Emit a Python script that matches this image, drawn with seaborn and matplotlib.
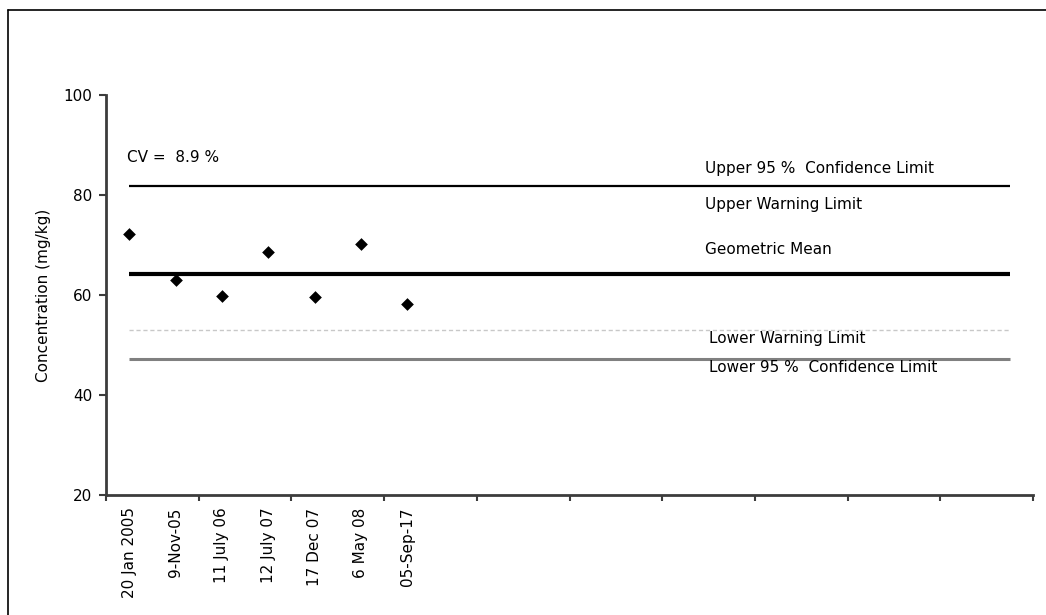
import numpy as np
import pandas as pd
import matplotlib
matplotlib.use("Agg")
import matplotlib.pyplot as plt
from matplotlib.lines import Line2D
import seaborn as sns

# ---- data ----
dates = ["20 Jan 2005", "9-Nov-05", "11 July 06", "12 July 07", "17 Dec 07", "6 May 08", "05-Sep-17"]
concentration = [72.3, 63.0, 59.9, 68.7, 59.6, 70.2, 58.2]
n_slots = 20  # category slots on the x axis (only the first 7 used)

upper_95 = 81.9
geo_mean = 64.3
lower_warning = 53.0
lower_95 = 47.2
cv_text = "CV =  8.9 %"

y_ticks = [20, 40, 60, 80, 100]

# ---- plot ----
sns.set_theme(style="white")
plt.rcParams['font.family'] = ['DejaVu Sans']
plt.rcParams['text.color'] = 'black'
plt.rcParams['axes.labelcolor'] = 'black'
plt.rcParams['xtick.labelcolor'] = 'black'
plt.rcParams['ytick.labelcolor'] = 'black'
FS = 11

fig = plt.figure(figsize=(10.46, 6.15), dpi=100)
ax = fig.add_axes([106/1046, 1-495/615, 927/1046, 400/615])

df = pd.DataFrame({"pos": np.arange(len(dates)), "value": concentration, "date": dates})
sns.scatterplot(data=df, x="pos", y="value", marker="D", color="black", s=42,
                edgecolor="black", linewidth=0, ax=ax, zorder=5)

x0, x1 = 0, n_slots - 1
ax.hlines(upper_95, x0, x1, color="black", lw=1.6)
ax.hlines(geo_mean, x0, x1, color="black", lw=3.0)
ax.hlines(lower_warning, x0, x1, color="#c8c8c8", lw=1.0, linestyles=(0, (3, 2)))
ax.hlines(lower_95, x0, x1, color="#808080", lw=2.2)

ax.set_xlim(-0.5, n_slots - 0.5)
ax.set_ylim(y_ticks[0], y_ticks[-1])
ax.set_yticks(y_ticks)
ax.set_yticklabels([str(t) for t in y_ticks], fontsize=FS)

ax.set_xticks(np.arange(-0.5, n_slots, 2))
ax.set_xticklabels([])
ax.set_xticks(np.arange(len(dates)), minor=True)
ax.set_xticklabels(dates, minor=True, rotation=90, fontsize=FS, va="top", ha="center")
ax.tick_params(axis="x", which="minor", length=0, pad=9)
ax.tick_params(axis="x", which="major", length=4, width=1.5, color="#3c3c3c", direction="out", bottom=True)
ax.tick_params(axis="y", length=5, width=1.5, color="#3c3c3c", direction="out", left=True, pad=5)

for side in ["top", "right"]:
    ax.spines[side].set_visible(False)
for side in ["left", "bottom"]:
    ax.spines[side].set_color("#3c3c3c")
    ax.spines[side].set_linewidth(2)

ax.set_xlabel("")
ax.set_ylabel("Concentration (mg/kg)", fontsize=FS, labelpad=9)
ax.grid(False)

tr = ax.get_yaxis_transform()
ax.text(0.0227, 87.4, cv_text, transform=tr, fontsize=FS, va="center", ha="left")
ax.text(0.646, 85.4, "Upper 95 %  Confidence Limit", transform=tr, fontsize=FS, va="center")
ax.text(0.646, 78.2, "Upper Warning Limit", transform=tr, fontsize=FS, va="center")
ax.text(0.646, 69.0, "Geometric Mean", transform=tr, fontsize=FS, va="center")
ax.text(0.6505, 51.2, "Lower Warning Limit", transform=tr, fontsize=FS, va="center")
ax.text(0.6505, 45.4, "Lower 95 %  Confidence Limit", transform=tr, fontsize=FS, va="center")

# outer chart frame (top and left edges visible)
fx, fy = 8/1046, 1 - 10/615
fig.add_artist(Line2D([fx, 1.0], [fy, fy], transform=fig.transFigure, color="black", lw=1.2))
fig.add_artist(Line2D([fx, fx], [fy, 0.0], transform=fig.transFigure, color="black", lw=1.2))

fig.savefig("out.png", dpi=100, facecolor="white")
